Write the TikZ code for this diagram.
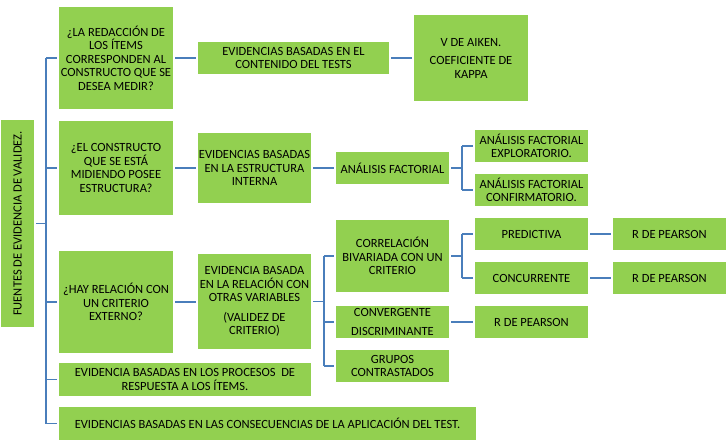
\documentclass[tikz,border=0pt]{standalone}
\usepackage{fontspec}
\setmainfont{Carlito}
\definecolor{boxgreen}{HTML}{92D050}
\definecolor{linkblue}{HTML}{4A7EBB}
\newcommand{\forkstub}{11}

\begin{document}
\begin{tikzpicture}[x=1pt,y=-1pt,
    box/.style={fill=boxgreen, inner sep=1pt, align=center,
      font=\fontsize{12.5}{13.5}\selectfont},
    wh/.style 2 args={minimum width=#1, minimum height=#2},
    link/.style={draw=linkblue, line width=1.6pt}]
  \useasboundingbox (0,0) rectangle (726,445);

  \node[box, rotate=90, wh={207}{33}] (root) at (17.5,223.5) {FUENTES DE EVIDENCIA DE VALIDEZ.};

  \node[box, wh={114}{102}] (q1) at (116,58)
    {¿LA REDACCIÓN DE\\LOS ÍTEMS\\CORRESPONDEN AL\\CONSTRUCTO QUE SE\\DESEA MEDIR?};
  \node[box, wh={191}{32}] (e1) at (293.5,58) {EVIDENCIAS BASADAS EN EL\\CONTENIDO DEL TESTS};
  \node[box, wh={114}{86}] (m1) at (471,58) {V DE AIKEN.\\[5pt]COEFICIENTE DE\\KAPPA};

  \node[box, wh={114}{94}] (q2) at (116,168)
    {¿EL CONSTRUCTO\\QUE SE ESTÁ\\MIDIENDO POSEE\\ESTRUCTURA?};
  \node[box, wh={113}{70}] (e2) at (254.5,168) {EVIDENCIAS BASADAS\\EN LA ESTRUCTURA\\INTERNA};
  \node[box, wh={113}{32}] (af) at (392.5,168) {ANÁLISIS FACTORIAL};
  \node[box, wh={113}{32}] (afe) at (531.5,146) {ANÁLISIS FACTORIAL\\EXPLORATORIO.};
  \node[box, wh={113}{32}] (afc) at (531.5,190) {ANÁLISIS FACTORIAL\\CONFIRMATORIO.};

  \node[box, wh={114}{102}] (q3) at (116,302) {¿HAY RELACIÓN CON\\UN CRITERIO\\EXTERNO?};
  \node[box, wh={113}{95}] (e3) at (254.5,301.5)
    {EVIDENCIA BASADA\\EN LA RELACIÓN CON\\OTRAS VARIABLES\\[6pt](VALIDEZ DE\\CRITERIO)};
  \node[box, wh={113}{72}] (cb) at (392.5,256) {CORRELACIÓN\\BIVARIADA CON UN\\CRITERIO};
  \node[box, wh={113}{32}] (pred) at (531.5,234) {PREDICTIVA};
  \node[box, wh={113}{32}] (conc) at (531.5,278) {CONCURRENTE};
  \node[box, wh={113}{32}] (rp1) at (669.5,234) {R DE PEARSON};
  \node[box, wh={113}{32}] (rp2) at (669.5,278) {R DE PEARSON};
  \node[box, wh={113}{32}] (cd) at (392.5,322) {CONVERGENTE\\[6pt]DISCRIMINANTE};
  \node[box, wh={113}{32}] (rp3) at (531.5,322) {R DE PEARSON};
  \node[box, wh={113}{32}] (gc) at (392.5,366) {GRUPOS\\CONTRASTADOS};

  \node[box, wh={252}{33}] (p4) at (185,379.5)
    {EVIDENCIA BASADAS EN LOS PROCESOS\ \ DE\\RESPUESTA A LOS ÍTEMS.};
  \node[box, wh={417}{33}] (p5) at (267.5,423.5)
    {EVIDENCIAS BASADAS EN LAS CONSECUENCIAS DE LA APLICACIÓN DEL TEST.};

  % straight links
  \foreach \a/\b in {q1/e1,e1/m1,q2/e2,e2/af,q3/e3,pred/rp1,conc/rp2,cd/rp3}
    \draw[link, shorten <=2pt, shorten >=2pt] (\a.east) -- (\a.east -| \b.west);

  % brackets
  \draw[link] ([xshift=2pt]root.south) -- ++(10,0) coordinate (rj);
  \draw[link] (rj |- q1.west) -- (rj |- p5.west);
  \foreach \t in {q1,q2,q3,p4,p5}
    \draw[link] (rj |- \t.west) -- ([xshift=-2pt]\t.west);

  \draw[link] ([xshift=2pt]af.east) -- ++(\forkstub,0) coordinate (aj);
  \draw[link] (aj |- afe.west) -- (aj |- afc.west);
  \foreach \t in {afe,afc}
    \draw[link] (aj |- \t.west) -- ([xshift=-2pt]\t.west);

  \draw[link] ([xshift=2pt]e3.east) -- ++(\forkstub,0) coordinate (ej);
  \draw[link] (ej |- cb.west) -- (ej |- gc.west);
  \foreach \t in {cb,cd,gc}
    \draw[link] (ej |- \t.west) -- ([xshift=-2pt]\t.west);

  \draw[link] ([xshift=2pt]cb.east) -- ++(\forkstub,0) coordinate (cj);
  \draw[link] (cj |- pred.west) -- (cj |- conc.west);
  \foreach \t in {pred,conc}
    \draw[link] (cj |- \t.west) -- ([xshift=-2pt]\t.west);
\end{tikzpicture}
\end{document}
